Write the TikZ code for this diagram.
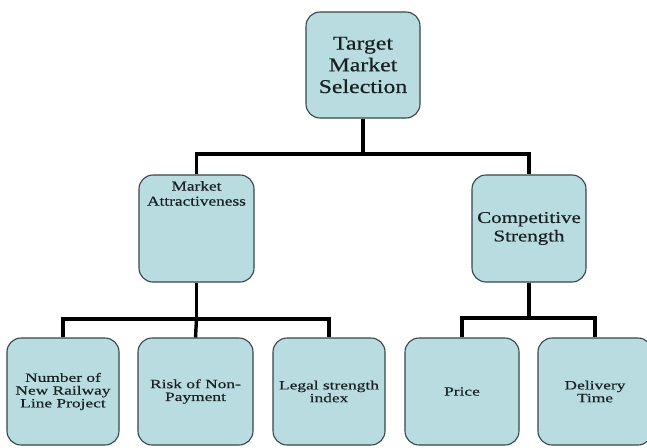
\documentclass[tikz,border=0pt]{standalone}
\usepackage{fontspec}
\setmainfont{Liberation Serif}
\newfontfamily\ftop[FakeStretch=1.22,FakeBold=0.35]{Liberation Serif}
\newfontfamily\fmid[FakeStretch=1.27,FakeBold=0.35]{Liberation Serif}
\newfontfamily\fbot[FakeStretch=1.38,FakeBold=0.35]{Liberation Serif}
\definecolor{boxfill}{RGB}{184,220,224}
\definecolor{boxline}{RGB}{55,70,72}
\definecolor{txt}{RGB}{25,32,34}
\tikzset{
  box/.style={draw=boxline, fill=boxfill, line width=1.1pt, rounded corners=14pt,
    inner sep=0pt, align=center, text=txt},
  conn/.style={line width=3.4pt, black, line join=miter},
}
\begin{document}
\begin{tikzpicture}[x=1pt,y=-1pt]
\fill[white] (0,0) rectangle (647,447);
\clip (0,0) rectangle (647,447);
% top
\node[box, minimum width=114pt, minimum height=106pt, font=\ftop\fontsize{19.5}{21.7}\selectfont] (top) at (363,65) {Target\\Market\\Selection};
% middle
\node[box, minimum width=115pt, minimum height=107pt] (ma) at (196.5,228.5) {};
\node[text=txt, align=center, font=\fmid\fontsize{13.6}{15}\selectfont, anchor=north, inner sep=0pt] (malabel) at (196.5,181) {Market\\Attractiveness};
\node[box, minimum width=114pt, minimum height=107pt, font=\fmid\fontsize{16.5}{18.5}\selectfont] (cs) at (529,228.5) {Competitive\\Strength};
% bottom
\tikzset{bot/.style={box, minimum width=112pt, minimum height=107pt, font=\fbot\fontsize{12.6}{12.8}\selectfont}}
\node[bot] (b1) at (63,391.5) {Number of\\New Railway\\Line Project};
\node[bot, minimum width=115pt] (b2) at (195.5,391.5) {Risk of Non-\\Payment};
\node[bot] (b3) at (329,391.5) {Legal strength\\index};
\node[bot, minimum width=114pt] (b4) at (462,391.5) {Price};
\node[bot, minimum width=114pt] (b5) at (595,391.5) {Delivery\\Time};
% connectors
\coordinate (j1) at (363,154);
\coordinate (j2) at (196.5,319);
\coordinate (j3) at (529,318);
\draw[conn] (top.south) -- (j1);
\draw[conn] (ma.north) |- (j1) -| (cs.north);
\draw[conn] (ma.south) -- (j2);
\draw[conn] (b1.north) |- (j2) -| (b3.north);
\draw[conn] (j2) -- (b2.north);
\draw[conn] (cs.south) -- (j3);
\draw[conn] (b4.north) |- (j3) -| (b5.north);
\end{tikzpicture}
\end{document}
